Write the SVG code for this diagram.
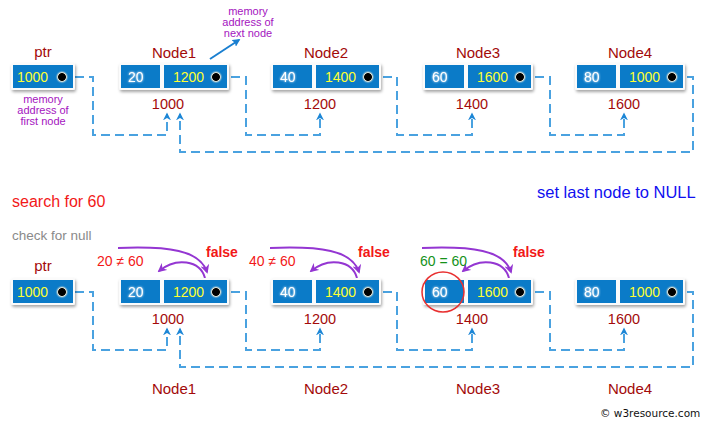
<svg xmlns="http://www.w3.org/2000/svg" width="710" height="430" viewBox="0 0 710 430">
<style>
.card{fill:#fbfbfb;filter:url(#sh)}
.cell{fill:#0b7bc8}
.val{font-family:"Liberation Sans",Arial,sans-serif;font-size:14px;fill:#fff;filter:url(#glow)}
.ptrv{font-family:"Liberation Sans",Arial,sans-serif;font-size:14px;fill:#ffff33}
.lbl{font-family:"Liberation Sans",Arial,sans-serif;font-size:15px;fill:#a30a0a;text-anchor:middle}
.addr{font-family:"Liberation Sans",Arial,sans-serif;font-size:14.5px;fill:#a30a0a;text-anchor:middle}
.note{font-family:"Liberation Sans",Arial,sans-serif;font-size:11px;fill:#a414c0;text-anchor:middle}
.cmp{font-family:"Liberation Sans",Arial,sans-serif;font-size:14px;fill:#f21818}
.ok{font-family:"Liberation Sans",Arial,sans-serif;font-size:14px;fill:#14921a}
.fls{font-family:"Liberation Sans",Arial,sans-serif;font-size:14px;font-weight:bold;fill:#f21818}
.dash{fill:none;stroke:#4aa2e0;stroke-width:2;stroke-dasharray:9 5;marker-end:url(#ba)}
.arc{fill:none;stroke:#9436d2;stroke-width:2;marker-end:url(#pa)}
</style>
<defs>
<filter id="sh" x="-10%" y="-30%" width="130%" height="180%"><feDropShadow dx="1" dy="2" stdDeviation="1.5" flood-color="#000" flood-opacity="0.35"/></filter>
<filter id="glow" x="-30%" y="-30%" width="160%" height="160%"><feGaussianBlur in="SourceGraphic" stdDeviation="1.2" result="b"/><feMerge><feMergeNode in="b"/><feMergeNode in="SourceGraphic"/></feMerge></filter>
<radialGradient id="dot"><stop offset="0" stop-color="#000"/><stop offset="0.5" stop-color="#000"/><stop offset="0.62" stop-color="#e8e8d8"/><stop offset="1" stop-color="#0b7bc8" stop-opacity="0"/></radialGradient>
<marker id="ba" viewBox="0 0 10 10" refX="8" refY="5" markerWidth="4" markerHeight="4.5" orient="auto" markerUnits="strokeWidth"><path d="M0,0 L10,5 L0,10 L3,5 z" fill="#1c86d6"/></marker>
<marker id="pa" viewBox="0 0 10 10" refX="8" refY="5" markerWidth="4.5" markerHeight="4.5" orient="auto" markerUnits="strokeWidth"><path d="M0,0 L10,5 L0,10 L3,5 z" fill="#9436d2"/></marker>
<marker id="ta" viewBox="0 0 10 10" refX="8" refY="5" markerWidth="4" markerHeight="4" orient="auto" markerUnits="strokeWidth"><path d="M0,0 L10,5 L0,10 L2,5 z" fill="#1a7fd0"/></marker>
</defs>
<rect width="710" height="430" fill="#fff"/>

<g id="connectors">
<path class="dash" d="M75,77 H93 V135 H167 V114"/>
<path class="dash" d="M231,77 H246 V135 H320 V114"/>
<path class="dash" d="M383,77 H397 V135 H472 V114"/>
<path class="dash" d="M535,77 H550 V135 H624 V114"/>
<path class="dash" d="M687,77 H693 V152 H180 V114"/>
<path class="dash" d="M75,292 H93 V350 H167 V329"/>
<path class="dash" d="M231,292 H246 V350 H320 V329"/>
<path class="dash" d="M383,292 H397 V350 H472 V329"/>
<path class="dash" d="M535,292 H550 V350 H624 V329"/>
<path class="dash" d="M687,292 H693 V367 H180 V329"/>
<line x1="210" y1="59" x2="239" y2="40" stroke="#1a7fd0" stroke-width="2" marker-end="url(#ta)"/>
<path class="arc" d="M118,248 C168,246 200,250 207,272"/>
<path class="arc" d="M205,278 C200,260 176,257 159,271"/>
<path class="arc" d="M270,248 C320,246 352,250 359,272"/>
<path class="arc" d="M357,278 C352,260 328,257 311,271"/>
<path class="arc" d="M422,248 C472,246 504,250 511,272"/>
<path class="arc" d="M509,278 C504,260 480,257 463,271"/>
</g>

<g id="ptr-top">
<text class="lbl" x="43" y="57">ptr</text>
<rect class="card" x="11" y="63" width="64" height="27" rx="2"/>
<rect class="cell" x="13" y="65" width="60" height="23"/>
<text class="ptrv" x="17" y="82">1000</text>
<circle cx="62" cy="77" r="7" fill="url(#dot)"/>
<text class="note" x="43" y="103">memory</text>
<text class="note" x="43" y="114">address of</text>
<text class="note" x="43" y="125">first node</text>
</g>
<g id="note-next">
<text class="note" x="248" y="15">memory</text>
<text class="note" x="248" y="26">address of</text>
<text class="note" x="248" y="37">next node</text>
</g>

<g id="node1-top">
<text class="lbl" x="174" y="58">Node1</text>
<rect class="card" x="119" y="63" width="110" height="27" rx="2"/>
<rect class="cell" x="121" y="65" width="39" height="23"/>
<rect class="cell" x="164" y="65" width="63" height="23"/>
<text class="val" x="128" y="82">20</text>
<text class="ptrv" x="173" y="82">1200</text>
<circle cx="216" cy="77" r="7" fill="url(#dot)"/>
<text class="addr" x="168" y="109">1000</text>
</g>
<g id="node2-top">
<text class="lbl" x="326" y="58">Node2</text>
<rect class="card" x="271" y="63" width="110" height="27" rx="2"/>
<rect class="cell" x="273" y="65" width="39" height="23"/>
<rect class="cell" x="316" y="65" width="63" height="23"/>
<text class="val" x="280" y="82">40</text>
<text class="ptrv" x="325" y="82">1400</text>
<circle cx="368" cy="77" r="7" fill="url(#dot)"/>
<text class="addr" x="320" y="109">1200</text>
</g>
<g id="node3-top">
<text class="lbl" x="478" y="58">Node3</text>
<rect class="card" x="423" y="63" width="110" height="27" rx="2"/>
<rect class="cell" x="425" y="65" width="39" height="23"/>
<rect class="cell" x="468" y="65" width="63" height="23"/>
<text class="val" x="432" y="82">60</text>
<text class="ptrv" x="477" y="82">1600</text>
<circle cx="520" cy="77" r="7" fill="url(#dot)"/>
<text class="addr" x="472" y="109">1400</text>
</g>
<g id="node4-top">
<text class="lbl" x="630" y="58">Node4</text>
<rect class="card" x="575" y="63" width="110" height="27" rx="2"/>
<rect class="cell" x="577" y="65" width="39" height="23"/>
<rect class="cell" x="620" y="65" width="63" height="23"/>
<text class="val" x="584" y="82">80</text>
<text class="ptrv" x="629" y="82">1000</text>
<circle cx="672" cy="77" r="7" fill="url(#dot)"/>
<text class="addr" x="624" y="109">1600</text>
</g>

<g id="captions">
<text x="12" y="207" font-family="Liberation Sans,Arial,sans-serif" font-size="16" fill="#f21818">search for 60</text>
<text x="12" y="240" font-family="Liberation Sans,Arial,sans-serif" font-size="13.5" fill="#8a8a8a">check for null</text>
<text x="537" y="198" font-family="Liberation Sans,Arial,sans-serif" font-size="16.5" fill="#1010f0">set last node to NULL</text>
<text x="600" y="417" font-family="DejaVu Sans,sans-serif" font-size="10.5" fill="#111">© w3resource.com</text>
</g>

<g id="ptr-bottom">
<text class="lbl" x="43" y="271">ptr</text>
<rect class="card" x="11" y="278" width="64" height="27" rx="2"/>
<rect class="cell" x="13" y="280" width="60" height="23"/>
<text class="ptrv" x="17" y="297">1000</text>
<circle cx="62" cy="292" r="7" fill="url(#dot)"/>
</g>
<g id="node1-bottom">
<text class="cmp" x="97" y="266">20 ≠ 60</text>
<text class="fls" x="206" y="257">false</text>
<rect class="card" x="119" y="278" width="110" height="27" rx="2"/>
<rect class="cell" x="121" y="280" width="39" height="23"/>
<rect class="cell" x="164" y="280" width="63" height="23"/>
<text class="val" x="128" y="297">20</text>
<text class="ptrv" x="173" y="297">1200</text>
<circle cx="216" cy="292" r="7" fill="url(#dot)"/>
<text class="addr" x="168" y="324">1000</text>
<text class="lbl" x="174" y="394">Node1</text>
</g>
<g id="node2-bottom">
<text class="cmp" x="249" y="266">40 ≠ 60</text>
<text class="fls" x="358" y="257">false</text>
<rect class="card" x="271" y="278" width="110" height="27" rx="2"/>
<rect class="cell" x="273" y="280" width="39" height="23"/>
<rect class="cell" x="316" y="280" width="63" height="23"/>
<text class="val" x="280" y="297">40</text>
<text class="ptrv" x="325" y="297">1400</text>
<circle cx="368" cy="292" r="7" fill="url(#dot)"/>
<text class="addr" x="320" y="324">1200</text>
<text class="lbl" x="326" y="394">Node2</text>
</g>
<g id="node3-bottom">
<text class="ok" x="420" y="266">60 = 60</text>
<text class="fls" x="513" y="257">false</text>
<rect class="card" x="423" y="278" width="110" height="27" rx="2"/>
<rect class="cell" x="425" y="280" width="39" height="23"/>
<rect class="cell" x="468" y="280" width="63" height="23"/>
<text class="val" x="432" y="297">60</text>
<text class="ptrv" x="477" y="297">1600</text>
<circle cx="520" cy="292" r="7" fill="url(#dot)"/>
<ellipse cx="443" cy="292" rx="21" ry="20" fill="none" stroke="#e83030" stroke-width="1.5"/>
<text class="addr" x="472" y="324">1400</text>
<text class="lbl" x="478" y="394">Node3</text>
</g>
<g id="node4-bottom">
<rect class="card" x="575" y="278" width="110" height="27" rx="2"/>
<rect class="cell" x="577" y="280" width="39" height="23"/>
<rect class="cell" x="620" y="280" width="63" height="23"/>
<text class="val" x="584" y="297">80</text>
<text class="ptrv" x="629" y="297">1000</text>
<circle cx="672" cy="292" r="7" fill="url(#dot)"/>
<text class="addr" x="624" y="324">1600</text>
<text class="lbl" x="630" y="394">Node4</text>
</g>
</svg>
